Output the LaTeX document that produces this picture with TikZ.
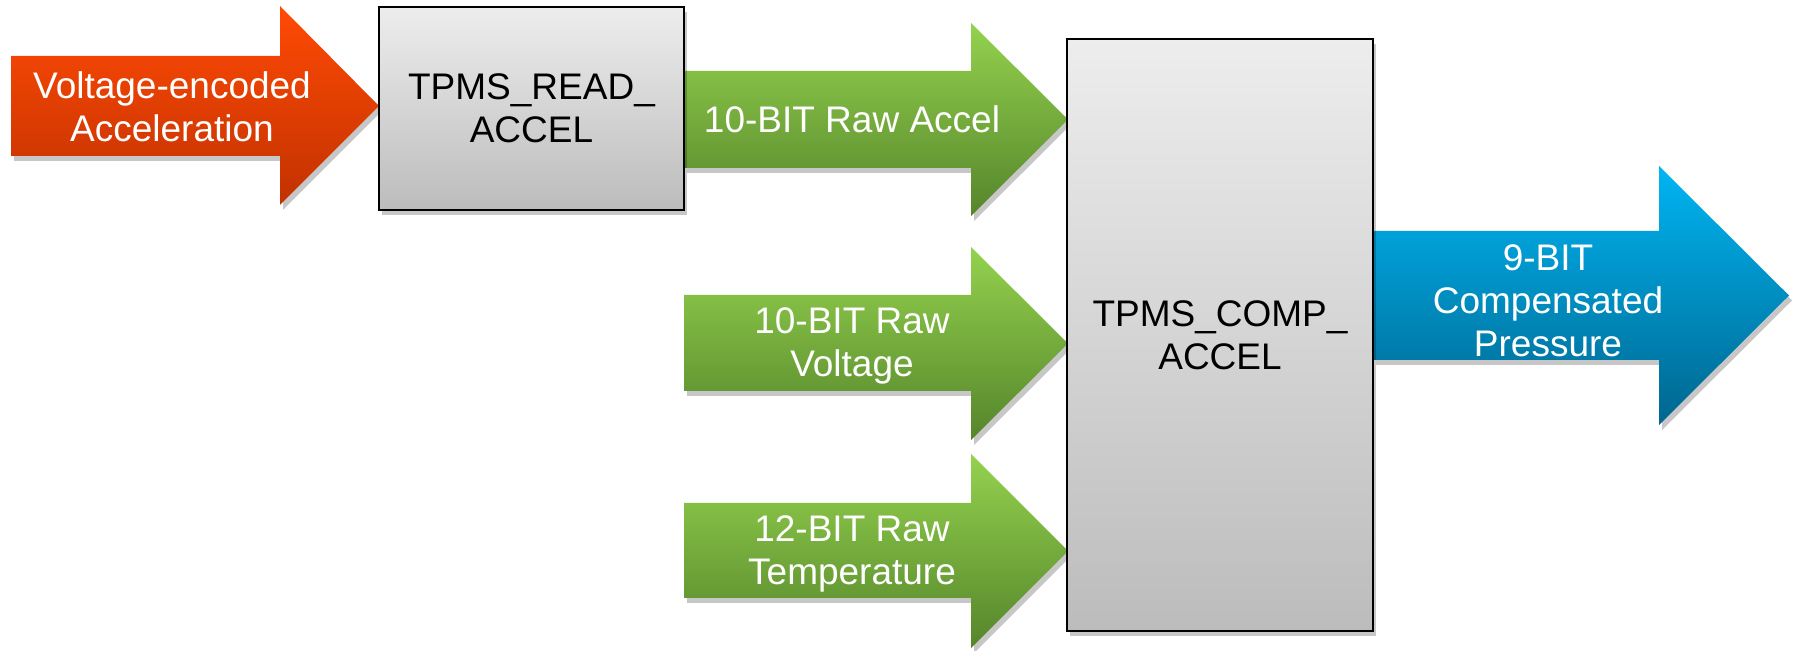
\documentclass[tikz,border=0pt]{standalone}
\usepackage{fontspec}
\setmainfont{Liberation Sans}
\usetikzlibrary{shadows}
\definecolor{orTop}{HTML}{FF4A05}
\definecolor{orBot}{HTML}{C23200}
\definecolor{grTop}{HTML}{94D24E}
\definecolor{grBot}{HTML}{55852B}
\definecolor{blTop}{HTML}{00B5F2}
\definecolor{blBot}{HTML}{00668F}
\definecolor{bxTop}{HTML}{EDEDED}
\definecolor{bxBot}{HTML}{BCBCBC}
\begin{document}
\begin{tikzpicture}[x=0.5pt,y=-0.5pt,
  shd/.style={drop shadow={shadow xshift=1.5pt,shadow yshift=-2.5pt,opacity=0.22,fill=black}},
  arrowtxt/.style={text=white,font=\fontsize{18.5}{21.5}\selectfont,align=center,inner sep=0pt},
  blocktxt/.style={text=black,font=\fontsize{18.5}{21.5}\selectfont,align=center},
  block/.style={draw=black,line width=1pt,top color=bxTop,bottom color=bxBot,shd,inner sep=0pt},
  orarrow/.style={top color=orTop,bottom color=orBot,shd},
  grarrow/.style={top color=grTop,bottom color=grBot,shd},
  blarrow/.style={top color=blTop,bottom color=blBot,shd}
]
\useasboundingbox (0,0) rectangle (1794,651);

% block positions (nodes drawn later, coordinates defined first)
\coordinate (readC) at (531.5,108.5);
\coordinate (compC) at (1220,335);

% input arrow (orange)
\coordinate (tipO) at (379,106);
\path[orarrow] (11,56) -- (280,56) -- (280,6) -- (tipO) -- (280,205) -- (280,156) -- (11,156) -- cycle;

% green arrows
\coordinate (tipG1) at (1068,119.5);
\coordinate (tipG2) at (1068,343.5);
\coordinate (tipG3) at (1068,551);
\path[grarrow] (684,71) -- (971,71) -- (971,23) -- (tipG1) -- (971,216) -- (971,168) -- (684,168) -- cycle;
\path[grarrow] (684,295) -- (971,295) -- (971,247) -- (tipG2) -- (971,440) -- (971,391) -- (684,391) -- cycle;
\path[grarrow] (684,503) -- (971,503) -- (971,454) -- (tipG3) -- (971,648) -- (971,598) -- (684,598) -- cycle;

% output arrow (blue)
\coordinate (tipB) at (1789,295.5);
\path[blarrow] (1373,231) -- (1659,231) -- (1659,166) -- (tipB) -- (1659,425) -- (1659,360) -- (1373,360) -- cycle;

% blocks
\node[block,minimum width=152.5pt,minimum height=101.5pt] (read) at (readC) {};
\node[blocktxt] (readT) at (read.center) {TPMS\_READ\_\\ACCEL};
\node[block,minimum width=153pt,minimum height=296pt] (comp) at (compC) {};
\node[blocktxt] (compT) at (comp.center) {TPMS\_COMP\_\\ACCEL};

% arrow labels
\node[arrowtxt] (tO) at (172,107) {Voltage-encoded\\Acceleration};
\node[arrowtxt] (tG1) at (852,119) {10-BIT Raw Accel};
\node[arrowtxt] (tG2) at (852,346) {10-BIT Raw\\Voltage};
\node[arrowtxt] (tG3) at (852,554) {12-BIT Raw\\Temperature};
\node[arrowtxt] (tB) at (1548,301) {9-BIT\\Compensated\\Pressure};
\end{tikzpicture}
\end{document}
